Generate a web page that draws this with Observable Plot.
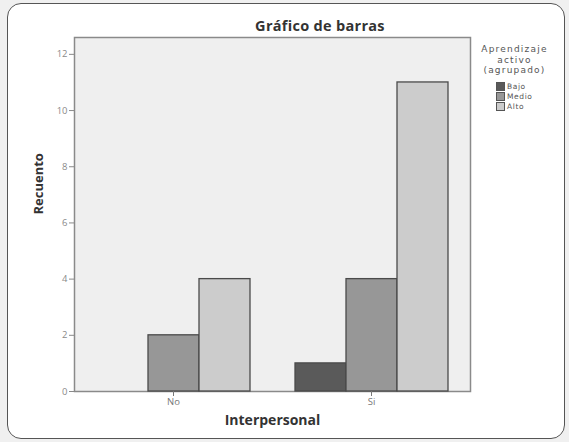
<!DOCTYPE html>
<html>
<head>
<meta charset="utf-8">
<script src="https://cdn.jsdelivr.net/npm/d3@7"></script>
<script src="https://cdn.jsdelivr.net/npm/@observablehq/plot@0.6"></script>
<style>
  html, body { margin: 0; padding: 0; background: #f0f0f0; width: 569px; height: 442px; overflow: hidden; font-family: "Open Sans", sans-serif; }
  #box { position: absolute; left: 7px; top: 3px; width: 556px; height: 434px; border: 1.5px solid #555; border-radius: 14px; background: #fff; }
  #title { position: absolute; left: 170px; width: 300px; top: 18px; line-height: 15px; text-align: center; font-weight: bold; font-size: 14.5px; letter-spacing: 0.3px; color: #333; }
  #chart { position: absolute; left: 0; top: 0; width: 569px; }
  #legend { position: absolute; left: 467px; top: 44px; width: 95px; color: #555; font-family: "DejaVu Sans", sans-serif; }
  #legend .lt { text-align: center; line-height: 10.5px; font-size: 9px; letter-spacing: 1.2px; }
  #legend .row { display: flex; align-items: center; margin-left: 29px; height: 10px; font-size: 7.5px; letter-spacing: 0.6px; }
  #legend .sw { width: 7px; height: 7px; border: 1px solid #555; margin-right: 2px; }
</style>
</head>
<body>
<div id="box"></div>
<div id="chart"></div>
<div id="title">Gráfico de barras</div>
<div id="legend"></div>
<script>
const groups = ["No", "Si"];
const levels = ["Bajo", "Medio", "Alto"];
const noValues = [0, 2, 4];
const siValues = [1, 4, 11];
const colors = ["#5a5a5a", "#979797", "#cccccc"];
const yTicks = [0, 2, 4, 6, 8, 10, 12];

const data = [];
levels.forEach((l, i) => data.push({group: "No", level: l, count: noValues[i]}));
levels.forEach((l, i) => data.push({group: "Si", level: l, count: siValues[i]}));

const chart = Plot.plot({
  width: 569,
  height: 442,
  marginLeft: 73,
  marginRight: 99,
  marginTop: 37,
  marginBottom: 51,
  facet: { marginTop: 0, marginRight: 0, marginBottom: 0, marginLeft: 0 },
  style: { background: "transparent", fontFamily: "Open Sans, sans-serif" },
  fx: { domain: groups, paddingInner: 0, paddingOuter: 0, label: null },
  x: { domain: levels, paddingInner: 0, paddingOuter: 0.409, axis: null },
  y: { domain: [0, 12.6], label: null },
  color: { domain: levels, range: colors },
  marks: [
    Plot.frame({ facet: "super", fill: "#efefef", stroke: "#8a8a8a", strokeWidth: 1.5 }),
    Plot.barY(data.filter(d => d.count > 0), { fx: "group", x: "level", y: "count", fill: "level", stroke: "#4a4a4a", strokeWidth: 1.3 }),
    Plot.axisY({ ticks: yTicks, tickSize: 5, tickPadding: 2, fontSize: 9.5, color: "#8a8a8a", label: null }),
    Plot.axisFx({ anchor: "bottom", tickSize: 5, tickPadding: 2, fontSize: 9.5, color: "#777", label: null }),
    Plot.text(["Interpersonal"], { facet: "super", frameAnchor: "bottom", dy: 33, fontSize: 14, fontWeight: "bold", fill: "#333" }),
    Plot.text(["Recuento"], { facet: "super", frameAnchor: "left", dx: -36, rotate: -90, fontSize: 13, fontWeight: "bold", fill: "#333" })
  ]
});
document.getElementById("chart").appendChild(chart);

const lg = document.getElementById("legend");
lg.innerHTML = '<div class="lt">Aprendizaje<br>activo<br>(agrupado)</div><div style="height:6px"></div>' +
  levels.map((l, i) => `<div class="row"><div class="sw" style="background:${colors[i]}"></div>${l}</div>`).join("");
</script>
</body>
</html>
